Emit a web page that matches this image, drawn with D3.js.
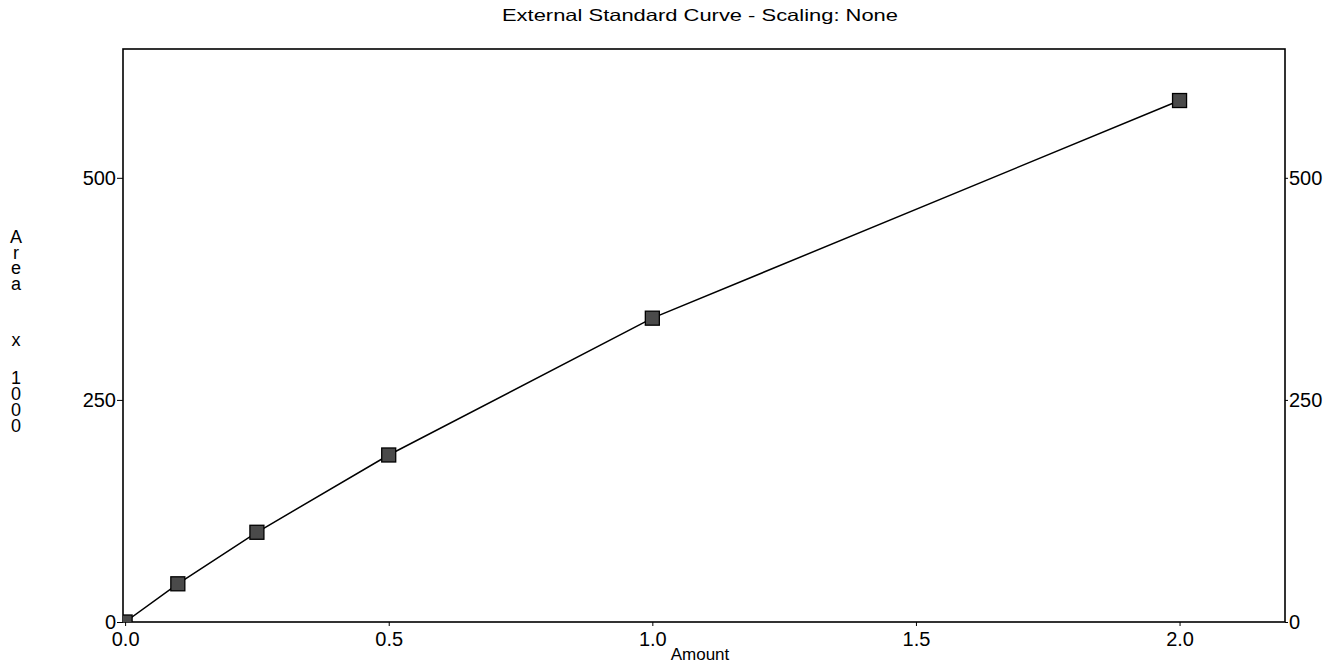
<!DOCTYPE html>
<html>
<head>
<meta charset="utf-8">
<script src="https://cdn.jsdelivr.net/npm/d3@7"></script>
<style>
  html, body { margin: 0; padding: 0; background: #fff; }
  svg { display: block; font-family: "Liberation Sans", Arial, sans-serif; }
</style>
</head>
<body>
<svg id="chart" width="1340" height="665"></svg>
<script>
const titleText = "External Standard Curve - Scaling: None";
const xLabelText = "Amount";
const yLabelChars = ["A", "r", "e", "a", "x", "1", "0", "0", "0"];
const yLabelGaps = [0, 15.5, 15.5, 15.5, 56, 38, 16, 16, 16];
const amounts = [0, 0.1, 0.25, 0.5, 1.0, 2.0];
const areas = [0, 43, 101, 188, 342, 587];
const xTicks = [0, 0.5, 1.0, 1.5, 2.0];
const yTicks = [0, 250, 500];

(function () {
const svg = d3.select("#chart");
const pLeft = 123, pRight = 1285, pTop = 49, pBottom = 622;

const x = d3.scaleLinear().domain([-0.004, 2.2]).range([pLeft, pRight]);
const y = d3.scaleLinear().domain([0, 645]).range([pBottom, pTop]);

// Title
svg.append("text")
  .attr("x", 700).attr("y", 21)
  .attr("text-anchor", "middle")
  .attr("font-size", 16.5)
  .attr("textLength", 396)
  .attr("lengthAdjust", "spacingAndGlyphs")
  .text(titleText);

// Axes
const fmtX = d3.format(".1f");
const gx = svg.append("g").attr("transform", `translate(0,${pBottom})`)
  .call(d3.axisBottom(x).tickValues(xTicks).tickFormat(fmtX).tickSize(4).tickPadding(4));
const gyL = svg.append("g").attr("transform", `translate(${pLeft},0)`)
  .call(d3.axisLeft(y).tickValues(yTicks).tickSize(6).tickPadding(1));
const gyR = svg.append("g").attr("transform", `translate(${pRight},0)`)
  .call(d3.axisRight(y).tickValues(yTicks).tickSize(3).tickPadding(1));
[gx, gyL, gyR].forEach(g => {
  g.select(".domain").remove();
  g.selectAll(".tick line").attr("stroke", "#000").attr("stroke-width", 1);
  g.selectAll(".tick text").attr("fill", "#000").attr("font-size", 20)
    .attr("font-family", "'Liberation Sans', Arial, sans-serif");
});
gx.selectAll(".tick text").attr("dy", "0.8em");

// Frame
svg.append("rect")
  .attr("x", pLeft).attr("y", pTop)
  .attr("width", pRight - pLeft).attr("height", pBottom - pTop)
  .attr("fill", "none").attr("stroke", "#000").attr("stroke-width", 1.6);

// Clip
svg.append("clipPath").attr("id", "plotclip")
  .append("rect").attr("x", pLeft).attr("y", pTop)
  .attr("width", pRight - pLeft).attr("height", pBottom - pTop);

const pts = amounts.map((a, i) => ({ a, v: areas[i] }));

svg.append("path")
  .datum(pts)
  .attr("clip-path", "url(#plotclip)")
  .attr("fill", "none").attr("stroke", "#000").attr("stroke-width", 1.5)
  .attr("d", d3.line().x(d => x(d.a)).y(d => y(d.v)));

const ms = 14;
svg.append("g").attr("clip-path", "url(#plotclip)")
  .selectAll("rect").data(pts).join("rect")
  .attr("x", d => x(d.a) - ms / 2).attr("y", d => y(d.v) - ms / 2)
  .attr("width", ms).attr("height", ms)
  .attr("fill", "#4a4a4a").attr("stroke", "#000").attr("stroke-width", 1.3);

// X label
svg.append("text")
  .attr("x", 700).attr("y", 660)
  .attr("text-anchor", "middle")
  .attr("font-size", 17)
  .text(xLabelText);

// Y label (stacked characters)
let yy = 243;
const yl = svg.append("text").attr("font-size", 18).attr("text-anchor", "middle");
yLabelChars.forEach((c, i) => {
  yy += yLabelGaps[i];
  yl.append("tspan").attr("x", 16).attr("y", yy).text(c);
});
})();
</script>
</body>
</html>
